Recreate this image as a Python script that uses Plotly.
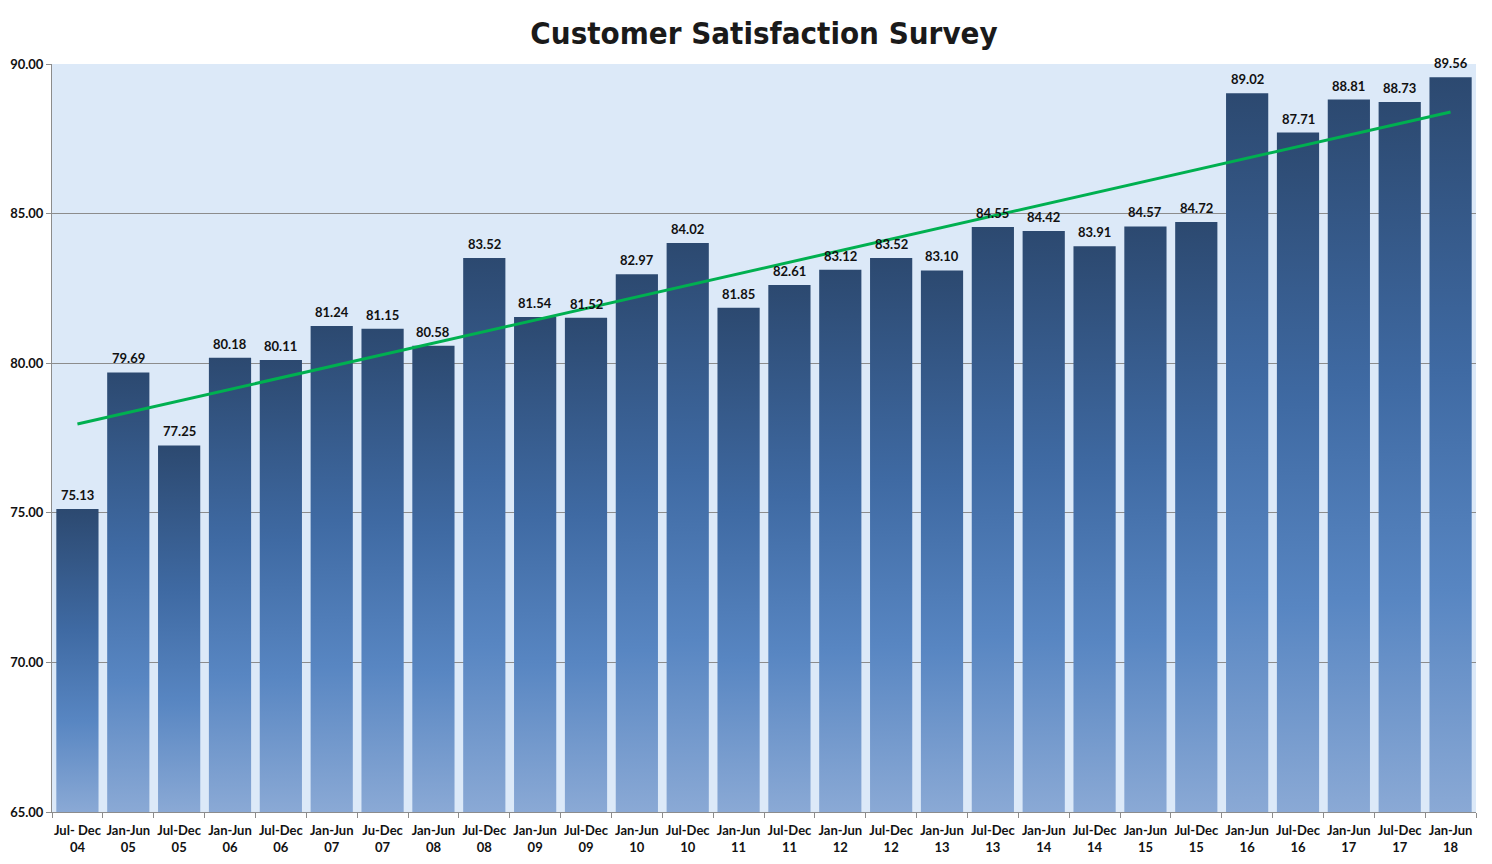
import numpy as np
import plotly.graph_objects as go

periods = ["Jul- Dec", "Jan-Jun", "Jul-Dec", "Jan-Jun", "Jul-Dec", "Jan-Jun", "Ju-Dec",
           "Jan-Jun", "Jul-Dec", "Jan-Jun", "Jul-Dec", "Jan-Jun", "Jul-Dec", "Jan-Jun",
           "Jul-Dec", "Jan-Jun", "Jul-Dec", "Jan-Jun", "Jul-Dec", "Jan-Jun", "Jul-Dec",
           "Jan-Jun", "Jul-Dec", "Jan-Jun", "Jul-Dec", "Jan-Jun", "Jul-Dec", "Jan-Jun"]
years = ["04", "05", "05", "06", "06", "07", "07", "08", "08", "09", "09", "10", "10", "11",
         "11", "12", "12", "13", "13", "14", "14", "15", "15", "16", "16", "17", "17", "18"]
scores = [75.13, 79.69, 77.25, 80.18, 80.11, 81.24, 81.15, 80.58, 83.52, 81.54, 81.52,
          82.97, 84.02, 81.85, 82.61, 83.12, 83.52, 83.10, 84.55, 84.42, 83.91, 84.57,
          84.72, 89.02, 87.71, 88.81, 88.73, 89.56]
y_ticks = [65, 70, 75, 80, 85, 90]

Y_MIN, Y_MAX = 65, 90
BAR_W = 0.83
n = len(scores)
xs = np.arange(n)

fig = go.Figure()

gradient = [[0.0, "#8aa9d5"], [0.3, "#5886c2"], [0.6, "#3f6aa3"], [1.0, "#2c4970"]]
for i, v in enumerate(scores):
    x0, x1 = i - BAR_W / 2, i + BAR_W / 2
    fig.add_trace(go.Scatter(
        x=[x0, x1, x1, x0, x0], y=[Y_MIN, Y_MIN, v, v, Y_MIN],
        mode="lines", line=dict(width=0), fill="toself",
        fillgradient=dict(type="vertical", colorscale=gradient, start=Y_MIN, stop=v),
        hoverinfo="skip", showlegend=False))

# linear trendline
coef = np.polyfit(xs, scores, 1)
trend = np.polyval(coef, xs)
fig.add_trace(go.Scatter(x=[xs[0], xs[-1]], y=[trend[0], trend[-1]], mode="lines",
                         line=dict(color="#00b050", width=3), showlegend=False,
                         hoverinfo="skip"))

for i, v in enumerate(scores):
    fig.add_annotation(x=i, y=v, text=f"{v:.2f}", showarrow=False,
                       yanchor="middle", yshift=14,
                       font=dict(family="Lato", size=13, color="#111111", weight="bold"))

fig.update_layout(
    width=1476, height=848,
    margin=dict(l=44, r=8, t=56, b=44, autoexpand=False),
    paper_bgcolor="white", plot_bgcolor="#dce9f8",
    title=dict(text="Customer Satisfaction Survey", x=0.5, xanchor="center",
               xref="paper", y=1 - 25 / 848, yanchor="middle", yref="container",
               font=dict(family="Liberation Sans Narrow, DejaVu Sans Condensed, sans-serif",
                         size=31, color="#1a1a1a", weight="bold")),
    font=dict(family="Lato", size=12, color="#111111"),
)
fig.update_xaxes(
    range=[-0.5, n - 0.5], tickmode="array", tickvals=list(xs),
    ticktext=[f"{p}<br>{y}" for p, y in zip(periods, years)],
    tickfont=dict(family="Lato", size=13, color="#111111", weight="bold"),
    ticks="", showgrid=False, zeroline=False, automargin=False,
    ticklabelstandoff=6,
    showline=True, linecolor="#8c8c8c", linewidth=1,
    minor=dict(tickmode="array", tickvals=list(np.arange(-0.5, n, 1.0)),
               ticks="outside", ticklen=5, tickcolor="#8c8c8c", showgrid=False),
)
fig.update_yaxes(
    range=[Y_MIN, Y_MAX], tickmode="array", tickvals=y_ticks,
    ticktext=[f"{t:.2f}" for t in y_ticks],
    tickfont=dict(family="Lato", size=13, color="#111111", weight="bold"),
    ticks="outside", ticklen=5, tickcolor="#8c8c8c", automargin=False,
    showgrid=True, gridcolor="#8c8c8c", gridwidth=1, zeroline=False,
    showline=True, linecolor="#8c8c8c", linewidth=1,
)

fig.write_html("out.html")
